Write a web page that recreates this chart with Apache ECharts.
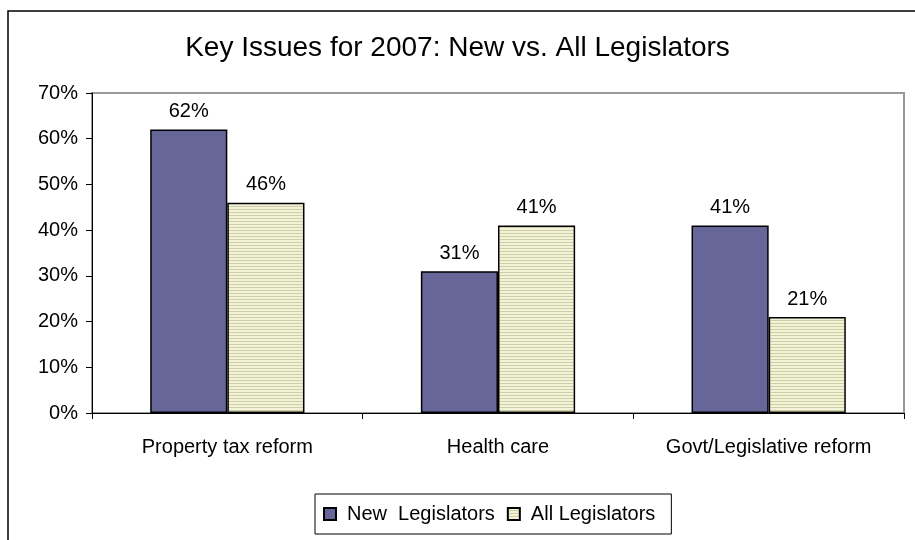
<!DOCTYPE html>
<html>
<head>
<meta charset="utf-8">
<script src="https://cdn.jsdelivr.net/npm/echarts@6/dist/echarts.min.js"></script>
<style>
  html, body { margin: 0; padding: 0; background: #fff; }
  #chart { width: 915px; height: 540px; }
</style>
</head>
<body>
<div id="chart"></div>
<script>
// Survey results: share of legislators naming each issue a priority
const categories = ['Property tax reform', 'Health care', 'Govt/Legislative reform'];
const newLegislators = [62, 31, 41];
const allLegislators = [46, 41, 21];
const yTicks = [0, 10, 20, 30, 40, 50, 60, 70];

// Horizontal-stripe fill for the "All Legislators" bars
function stripePattern() {
  const c = document.createElement('canvas');
  c.width = 4; c.height = 3;
  const ctx = c.getContext('2d');
  ctx.fillStyle = '#f2f2d8';
  ctx.fillRect(0, 0, 4, 3);
  ctx.fillStyle = '#cfcfa6';
  ctx.fillRect(0, 2, 4, 1);
  return c;
}
const stripes = { image: stripePattern(), repeat: 'repeat' };

const font = '"Liberation Sans", Arial, sans-serif';
const chart = echarts.init(document.getElementById('chart'), null, { renderer: 'canvas' });

const valueLabel = {
  show: true,
  position: 'top',
  distance: 8,
  formatter: p => p.value + '%',
  fontFamily: font,
  fontSize: 20,
  color: '#000'
};

chart.setOption({
  animation: false,
  backgroundColor: '#fff',
  title: {
    text: 'Key Issues for 2007: New vs. All Legislators',
    left: 'center',
    top: 29,
    textStyle: { fontFamily: font, fontSize: 28, fontWeight: 'normal', color: '#000' }
  },
  graphic: [{
    type: 'rect',
    shape: { x: 8, y: 11, width: 1000, height: 700 },
    style: { fill: 'none', stroke: '#000', lineWidth: 1.5 },
    silent: true,
    z: 100
  }],
  legend: {
    bottom: 6,
    left: 315,
    itemWidth: 12,
    itemHeight: 12,
    itemGap: 12,
    padding: [10, 16, 10, 8],
    borderColor: '#000',
    borderWidth: 1,
    textStyle: { fontFamily: font, fontSize: 20, color: '#000', padding: [0, 0, 0, 6] },
    data: [
      { name: 'New  Legislators', icon: 'rect' },
      { name: 'All Legislators', icon: 'rect' }
    ]
  },
  grid: {
    left: 92, right: 11, top: 93, bottom: 127,
    show: true,
    borderColor: '#9a9a9a',
    borderWidth: 2,
    containLabel: false
  },
  xAxis: {
    type: 'category',
    data: categories,
    axisLine: { lineStyle: { color: '#000', width: 1 } },
    axisTick: { show: true, alignWithLabel: false, length: 6, lineStyle: { color: '#000' } },
    axisLabel: { fontFamily: font, fontSize: 20, color: '#000', margin: 24 }
  },
  yAxis: {
    type: 'value',
    min: 0, max: 70, interval: 10,
    axisLine: { show: true, lineStyle: { color: '#000', width: 1 } },
    axisTick: { show: true, length: 6, lineStyle: { color: '#000' } },
    splitLine: { show: false },
    axisLabel: {
      fontFamily: font, fontSize: 20, color: '#000', margin: 14,
      formatter: v => (yTicks.includes(v) ? v + '%' : '')
    }
  },
  series: [
    {
      name: 'New  Legislators',
      type: 'bar',
      data: newLegislators,
      barGap: '0%',
      barCategoryGap: '43%',
      itemStyle: { color: '#666699', borderColor: '#000', borderWidth: 1.5 },
      label: valueLabel
    },
    {
      name: 'All Legislators',
      type: 'bar',
      data: allLegislators,
      itemStyle: { color: stripes, borderColor: '#000', borderWidth: 1.5 },
      label: valueLabel
    }
  ]
});
</script>
</body>
</html>
